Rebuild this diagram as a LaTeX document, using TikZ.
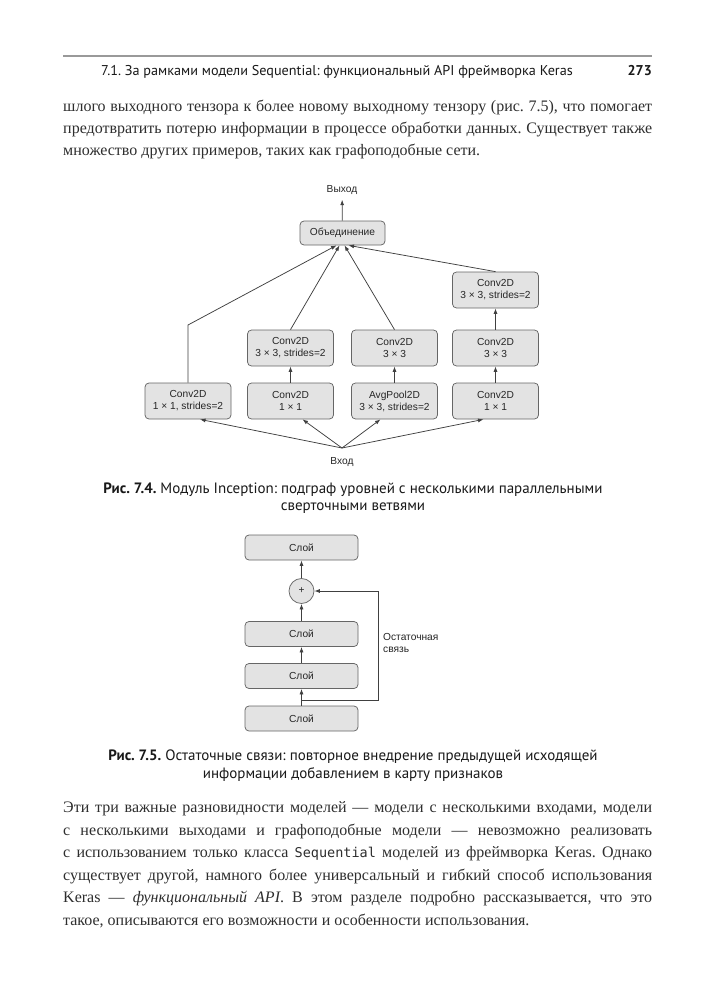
\documentclass[tikz,border=0pt]{standalone}
\usepackage{fontspec}
\setmainfont{Liberation Serif}
\setmonofont{DejaVu Sans Mono}
\newfontfamily\headfont{PT Sans}
\newfontfamily\figfont{Liberation Sans}
\usetikzlibrary{arrows.meta,positioning}
\frenchspacing

\begin{document}
\begin{tikzpicture}[
  x=1bp, y=-1bp,
  block/.style={rectangle, rounded corners=4bp, draw=black!60, fill=black!11, line width=0.75bp, minimum width=86bp, minimum height=36bp, inner sep=1bp, font=\figfont\fontsize{10.2bp}{12bp}\selectfont, text=black!85, align=center},
  layer/.style={block, minimum width=113bp, minimum height=25bp},
  arrow/.style={-{Latex[length=5.5bp,width=4bp]}, line width=0.75bp, draw=black!75},
  figlabel/.style={font=\figfont\fontsize{10.2bp}{12.5bp}\selectfont, text=black!85, inner sep=0pt},
  body/.style={anchor=base west, inner sep=0pt, font=\fontsize{16bp}{18bp}\selectfont, text=black!82},
  captext/.style={inner sep=0pt, font=\headfont\fontsize{15bp}{17bp}\selectfont, text=black!90},
  node distance=53bp
]
\useasboundingbox[fill=white] (0,0) rectangle (707,1000);

% Running head
\draw[black!40, line width=1.6bp] (63,56) -- (652,56);
\node[captext, anchor=base east, font=\headfont\fontsize{14.2bp}{16bp}\selectfont] (head) at (573,75) {7.1. За рамками модели Sequential: функциональный API фреймворка Keras};
\node[captext, anchor=base east, font=\headfont\bfseries\fontsize{14.2bp}{16bp}\selectfont] (page) at (652,75) {273};

% Text above the figures
\node[body] (p1) at (63,111) {\makebox[589bp][s]{шлого выходного тензора к более новому выходному тензору (рис.~7.5), что помогает}};
\node[body] (p2) at (63,133) {\makebox[589bp][s]{предотвратить потерю информации в процессе обработки данных. Существует также}};
\node[body] (p3) at (63,155) {множество других примеров, таких как графоподобные сети.};

% Inception module
\node[block] (b1) at (188,401) {Conv2D\\1 × 1, strides=2};
\node[block] (b2) at (290.5,401) {Conv2D\\1 × 1};
\node[block] (b3) at (394.5,401) {AvgPool2D\\3 × 3, strides=2};
\node[block] (b4) at (495.5,401) {Conv2D\\1 × 1};
\node[block, above of=b2] (m2) {Conv2D\\3 × 3, strides=2};
\node[block, above of=b3] (m3) {Conv2D\\3 × 3};
\node[block, above of=b4] (m4) {Conv2D\\3 × 3};
\node[block, above of=m4, node distance=58bp] (t4) {Conv2D\\3 × 3, strides=2};
\node[block, minimum width=85bp, minimum height=24bp] (merge) at (342.5,233) {Объединение};
\node[figlabel] (out) at (342,190) {Выход};
\node[figlabel] (in) at (342,462) {Вход};
\coordinate (src) at (342,448);
\coordinate (kink) at (188,325);

\draw[arrow, shorten >=5bp] (merge) -- (out);
\draw[arrow] (src) -- ([xshift=12bp]b1.south);
\draw[arrow] (src) -- ([xshift=12bp]b2.south);
\draw[arrow] (src) -- ([xshift=-14bp]b3.south);
\draw[arrow] (src) -- ([xshift=-12bp]b4.south);
\draw[arrow] (b2) -- (m2);
\draw[arrow] (b3) -- (m3);
\draw[arrow] (b4) -- (m4);
\draw[arrow] (m4) -- (t4);
\draw[arrow] (b1.north) -- (kink) -- ([xshift=-6bp]merge.south);
\draw[arrow] (m2.north) -- ([xshift=-3bp]merge.south);
\draw[arrow] (m3.north) -- ([xshift=2bp]merge.south);
\draw[arrow] (t4.north) -- ([xshift=6bp]merge.south);

\node[captext] (cap1a) at (353,490) {{\bfseries Рис. 7.4.} Модуль Inception: подграф уровней с несколькими параллельными};
\node[captext] (cap1b) at (353,508) {сверточными ветвями};

% Residual connection
\node[layer] (l4) at (301.5,718.5) {Слой};
\node[layer, above of=l4, node distance=42.5bp] (l3) {Слой};
\node[layer, above of=l3, node distance=42bp] (l2) {Слой};
\node[block, circle, minimum width=25bp, minimum height=25bp, inner sep=0pt, above of=l2, node distance=43bp] (add) {+};
\node[layer, above of=add, node distance=43.5bp] (l1) {Слой};
\coordinate (fork) at (301.5,700);
\node[figlabel, anchor=west, align=left] (res) at (383,643) {Остаточная\\связь};

\draw[arrow] (l4) -- (l3);
\draw[arrow] (l3) -- (l2);
\draw[arrow] (l2) -- (add);
\draw[arrow] (add) -- (l1);
\draw[arrow] (fork) -| ([xshift=64bp]add.east) -- (add.east);

\node[captext] (cap2a) at (353,757) {{\bfseries Рис. 7.5.} Остаточные связи: повторное внедрение предыдущей исходящей};
\node[captext] (cap2b) at (353,775) {информации добавлением в карту признаков};

% Text below the figures
\node[body] (q1) at (63,812) {\makebox[589bp][s]{Эти три важные разновидности моделей — модели с несколькими входами, модели}};
\node[body] (q2) at (63,835) {\makebox[589bp][s]{с несколькими выходами и графоподобные модели — невозможно реализовать}};
\node[body] (q3) at (63,857) {\makebox[589bp][s]{с использованием только класса {\ttfamily\fontsize{13.5bp}{16bp}\selectfont Sequential} моделей из фреймворка Keras. Однако}};
\node[body] (q4) at (63,880) {\makebox[589bp][s]{существует другой, намного более универсальный и гибкий способ использования}};
\node[body] (q5) at (63,902) {\makebox[589bp][s]{Keras — \textit{функциональный API}. В этом разделе подробно рассказывается, что это}};
\node[body] (q6) at (63,925) {такое, описываются его возможности и особенности использования.};

\end{tikzpicture}
\end{document}
